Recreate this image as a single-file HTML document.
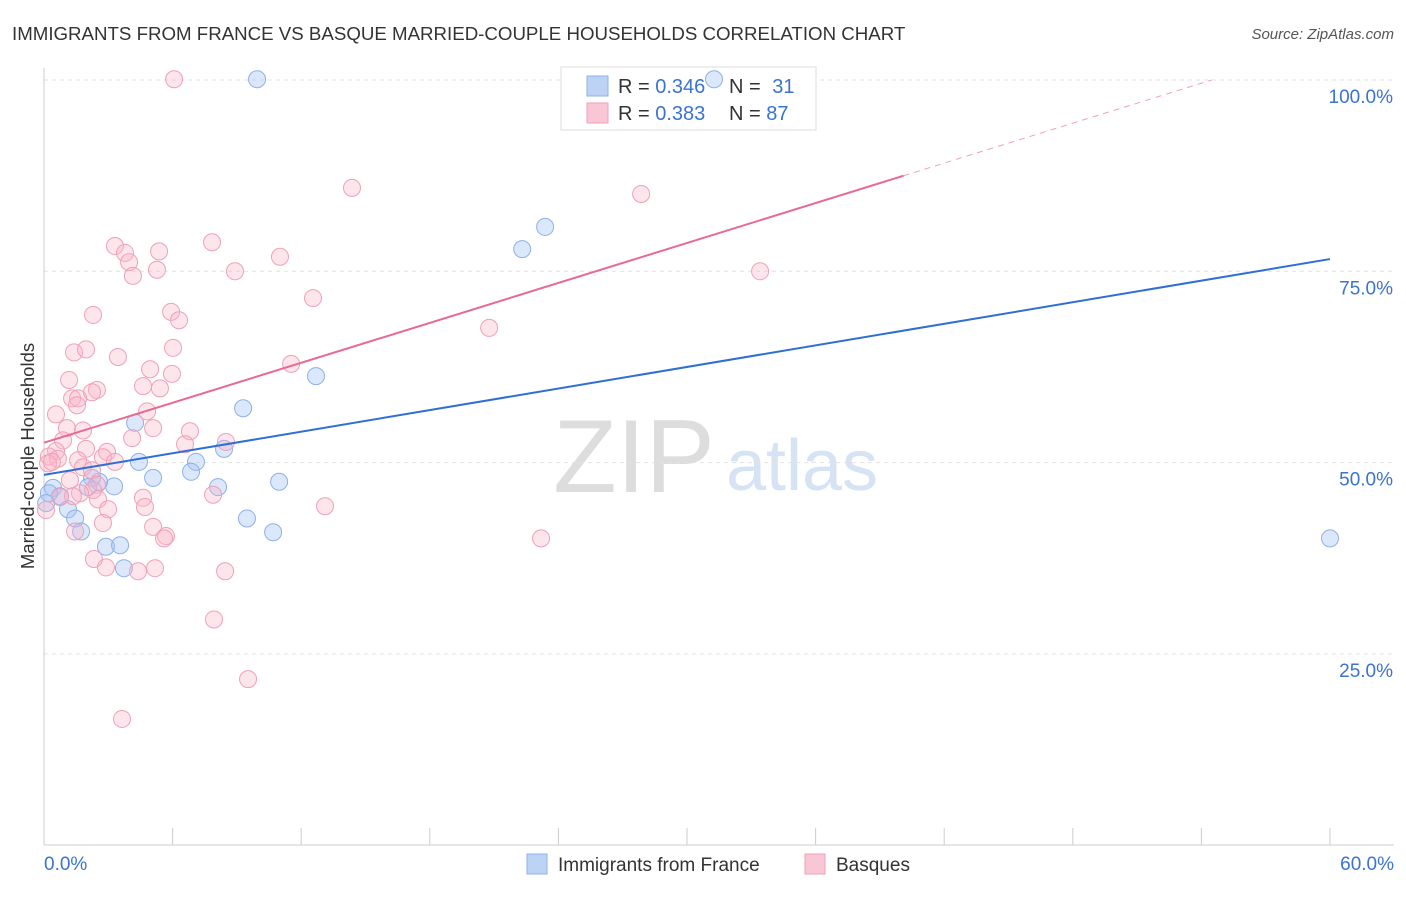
<!DOCTYPE html>
<html><head><meta charset="utf-8"><style>
body{margin:0;background:#fff;font-family:"Liberation Sans",sans-serif;}
svg text{font-family:"Liberation Sans",sans-serif;}
</style></head><body>
<svg id="chart" width="1406" height="892" xmlns="http://www.w3.org/2000/svg">
<text x="12" y="40" font-size="18.7" fill="#333">IMMIGRANTS FROM FRANCE VS BASQUE MARRIED-COUPLE HOUSEHOLDS CORRELATION CHART</text>
<text x="1394" y="39" font-size="15" fill="#555" font-style="italic" text-anchor="end">Source: ZipAtlas.com</text>
<text x="634" y="492" font-size="104" fill="#ddd" font-family="Liberation Serif" text-anchor="middle">ZIP</text>
<text x="802" y="490" font-size="72" fill="#d6e3f5" text-anchor="middle">atlas</text>
<text transform="translate(34,456) rotate(-90)" font-size="18.5" fill="#333" text-anchor="middle">Married-couple Households</text>
<g id="grid"></g>
<g>
<rect x="561" y="67" width="255" height="63" fill="#fff" stroke="#ddd"/>
<rect x="587" y="76" width="21" height="20" fill="#bcd3f5" stroke="#8fb0e8"/>
<rect x="587" y="103" width="21" height="20" fill="#f9c6d5" stroke="#f0a0b8"/>
<text x="618" y="93" font-size="20" fill="#333">R = <tspan fill="#3a73d0">0.346</tspan></text>
<text x="729" y="93" font-size="20" fill="#333">N = <tspan fill="#3a73d0" dx="6">31</tspan></text>
<text x="618" y="120" font-size="20" fill="#333">R = <tspan fill="#3a73d0">0.383</tspan></text>
<text x="729" y="120" font-size="20" fill="#333">N = <tspan fill="#3a73d0">87</tspan></text>
</g>
<g id="marks"></g>
<g>
<rect x="527" y="854" width="20" height="20" fill="#bcd3f5" stroke="#8fb0e8"/>
<text x="558" y="871" font-size="19" fill="#333">Immigrants from France</text>
<rect x="805" y="854" width="20" height="20" fill="#f9c6d5" stroke="#f0a0b8"/>
<text x="836" y="871" font-size="19" fill="#333">Basques</text>
</g>
</svg>
<script>
const xTicks=[0,6,12,18,24,30,36,42,48,54,60];
const yTicks=[25,50,75,100];
const yTickLabels=["25.0%","50.0%","75.0%","100.0%"];
const franceX=[9.94,31.26,23.38,22.31,12.69,9.29,4.25,8.40,4.43,7.09,6.86,5.09,10.97,8.12,3.27,2.57,2.24,2.05,0.42,0.75,0.23,1.12,1.45,9.47,10.69,1.73,2.89,3.55,3.73,60.0,0.1];
const franceY=[100.1,100.1,80.8,77.9,61.3,57.1,55.2,51.8,50.1,50.1,48.8,48.0,47.5,46.8,46.9,47.5,48.0,46.8,46.7,45.6,46.0,43.9,42.7,42.7,40.9,41.0,39.0,39.2,36.2,40.1,44.7];
const basqueX=[6.07,14.37,27.86,33.41,20.77,7.84,11.01,3.31,3.78,5.37,3.97,5.27,4.15,8.91,12.55,5.93,6.30,2.29,1.40,1.96,3.45,6.02,11.53,4.95,5.97,1.17,4.62,5.41,2.47,2.24,1.31,1.59,0.56,4.81,1.07,1.82,5.09,6.81,0.89,4.11,6.58,8.49,0.56,1.96,2.94,2.75,0.23,0.65,0.19,0.37,1.59,3.31,1.82,2.24,1.21,2.47,2.29,1.68,1.35,0.75,2.52,4.62,7.89,4.71,2.99,13.11,2.75,5.09,1.45,5.69,5.60,23.19,2.33,2.89,4.39,5.18,8.45,7.93,9.52,3.64,0.09,1.54];
const basqueY=[100.1,85.9,85.1,75.0,67.6,78.8,76.9,78.3,77.4,77.6,76.2,75.2,74.4,75.0,71.5,69.7,68.6,69.3,64.4,64.8,63.8,65.0,62.9,62.2,61.6,60.8,60.0,59.7,59.5,59.2,58.4,58.4,56.3,56.7,54.5,54.2,54.5,54.1,52.9,53.2,52.4,52.7,51.5,51.8,51.4,50.7,50.8,50.5,49.9,50.1,50.3,50.1,49.4,49.0,47.7,47.1,46.4,46.0,45.6,45.5,45.2,45.4,45.8,44.2,43.9,44.3,42.1,41.6,41.0,40.4,40.1,40.1,37.4,36.3,35.8,36.2,35.8,29.5,21.7,16.5,43.8,57.5];
const franceTrend=[48.4,76.6];
const basqueTrend=[52.6,0.87];
const NS='http://www.w3.org/2000/svg';
const xs=v=>44+v*(1286/60), ys=v=>80+(100-v)*7.652;
function mk(t,a,p){const e=document.createElementNS(NS,t);for(const k in a)e.setAttribute(k,a[k]);p.appendChild(e);return e;}
const grid=document.getElementById('grid'),marks=document.getElementById('marks');
yTicks.forEach((t,i)=>{
 const l=mk('line',{x1:44,x2:1394,y1:ys(t),y2:ys(t),stroke:'#e2e2e2','stroke-dasharray':'4,4'},grid);
 
 
 const tx=mk('text',{x:1393,y:ys(t)+23,'font-size':19,fill:'#3a73d0','text-anchor':'end'},grid);tx.textContent=yTickLabels[i];
 
 
});
const ax=mk('line',{x1:44,x2:44,y1:68,y2:845,stroke:'#ccc'},grid);


const bx=mk('line',{x1:44,x2:1394,y1:845,y2:845,stroke:'#ccc'},grid);


xTicks.forEach(t=>{const l=mk('line',{x1:xs(t),x2:xs(t),y1:828,y2:845,stroke:'#ccc'},grid);
 
 });
[[0,'start',44],[60,'end',1394]].forEach(([v,a,x])=>{const t=mk('text',{x:x,y:870,'font-size':19,fill:'#3a73d0','text-anchor':a},grid);t.textContent=v.toFixed(1)+'%';
 
 });
franceX.forEach((x,i)=>{const c=mk('circle',{cx:xs(x),cy:ys(franceY[i]),r:8.5,fill:'rgba(164,194,244,0.4)',stroke:'#8fb0e8','stroke-width':1},marks);
 
 });
basqueX.forEach((x,i)=>{const c=mk('circle',{cx:xs(x),cy:ys(basqueY[i]),r:8.5,fill:'rgba(248,180,200,0.35)',stroke:'#f0a0b8','stroke-width':1},marks);
 
 });
const fl=mk('line',{x1:xs(0),y1:ys(franceTrend[0]),x2:xs(60),y2:ys(franceTrend[1]),stroke:'#2f6fd4','stroke-width':2},marks);


const xe=40.1,xend=(100-basqueTrend[0])/basqueTrend[1];
const pl=mk('line',{x1:xs(0),y1:ys(basqueTrend[0]),x2:xs(xe),y2:ys(basqueTrend[0]+basqueTrend[1]*xe),stroke:'#e86a93','stroke-width':2},marks);


const pd=mk('line',{x1:xs(xe),y1:ys(basqueTrend[0]+basqueTrend[1]*xe),x2:xs(xend),y2:ys(100),stroke:'#f0a0b8','stroke-width':1,'stroke-dasharray':'6,5'},marks);


</script>
</body></html>
